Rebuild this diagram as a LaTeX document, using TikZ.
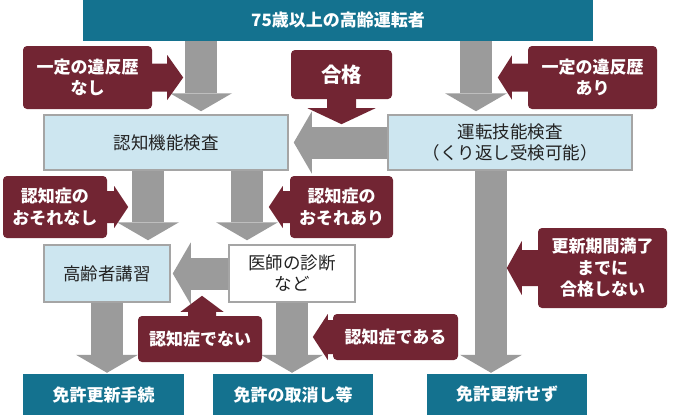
\documentclass[tikz,border=0pt]{standalone}
\usepackage{fontspec}
\setmainfont{Noto Sans CJK JP}
\usepackage{xcolor}
\usepackage{tikz}
\usetikzlibrary{arrows.meta}

\definecolor{headblue}{HTML}{14728F}
\definecolor{wine}{HTML}{722533}
\definecolor{arrowgray}{HTML}{9B9B9B}
\definecolor{paleblue}{HTML}{CDE6F0}
\definecolor{boxgray}{HTML}{A5A5A5}
\definecolor{textdark}{HTML}{222222}

\begin{document}
\begin{tikzpicture}[
  x=1pt, y=-1pt,
  every node/.style={
    align=center,
    inner sep=0pt,
    font=\fontsize{17.5}{21}\selectfont
  },
  headbox/.style={fill=headblue, text=white, font=\fontsize{17}{21}\selectfont\bfseries},
  checkbox/.style={draw=boxgray, line width=1.5pt, fill=paleblue, text=textdark},
  doctorbox/.style={draw=boxgray, line width=1.5pt, fill=white, text=textdark},
  callout/.style={fill=wine, rounded corners=4pt, text=white, font=\fontsize{17}{21.5}\selectfont\bfseries},
  garrow/.style={draw=arrowgray, line width=32pt,
    -{Triangle[length=18pt, width=62pt, line width=0pt]}}
]
\useasboundingbox (0,0) rectangle (675,415);

% boxes
\node[headbox, minimum width=510pt, minimum height=41pt] (top) at (338,20.5) {75歳以上の高齢運転者};

\node[checkbox, minimum width=244pt, minimum height=55pt] (kinou) at (166,142.5) {認知機能検査};
\node[checkbox, minimum width=244pt, minimum height=55pt] (ginou) at (510,142.5) {運転技能検査\\（くり返し受検可能）};

\node[checkbox, minimum width=126pt, minimum height=57pt] (koushu) at (107,273.5) {高齢者講習};
\node[doctorbox, minimum width=126pt, minimum height=57pt] (ishi) at (292,273.5) {医師の診断\\など};

\node[headbox, minimum width=161pt, minimum height=41pt] (koushin) at (103.5,394.5) {免許更新手続};
\node[headbox, minimum width=160pt, minimum height=41pt] (torikeshi) at (293,394.5) {免許の取消し等};
\node[headbox, minimum width=160pt, minimum height=41pt] (sezu) at (507,394.5) {免許更新せず};

% gray arrows
\draw[garrow, shorten >=3pt] ([xshift=35pt]kinou.north |- top.south) -- ([xshift=35pt]kinou.north);
\draw[garrow, shorten >=3pt] ([xshift=-34pt]ginou.north |- top.south) -- ([xshift=-34pt]ginou.north);
\draw[garrow, shorten >=5pt] (ginou.west) -- (kinou.east);
\draw[garrow, shorten >=4pt] ([xshift=-18pt]kinou.south) -- ([xshift=-18pt]kinou.south |- koushu.north);
\draw[garrow, shorten >=4pt] ([xshift=81pt]kinou.south) -- ([xshift=81pt]kinou.south |- ishi.north);
\draw[garrow, shorten >=2pt] (ishi.west) -- (koushu.east);
\draw[garrow, shorten >=1pt] (koushu.south) -- (koushu.south |- koushin.north);
\draw[garrow, shorten >=1pt] (ishi.south) -- (ishi.south |- torikeshi.north);
\draw[garrow, shorten >=1pt] ([xshift=-19pt]ginou.south) -- ([xshift=-19pt]ginou.south |- sezu.north);

% callouts
\node[callout, minimum width=129pt, minimum height=63pt] (ihan_nashi) at (87.5,77.5) {一定の違反歴\\なし};
\fill[wine, shift={(ihan_nashi.east)}] (0,-14) -- (15,-14) -- (15,-22.5) -- (31,0) -- (15,22.5) -- (15,14) -- (0,14) -- cycle;

\node[callout, minimum width=101pt, minimum height=49pt, font=\fontsize{20.5}{24}\selectfont\bfseries] (goukaku) at (341.5,74.5) {合格};
\fill[wine, shift={(goukaku.south)}, rotate=-90] (0,-14.5) -- (9,-14.5) -- (9,-34) -- (25,0) -- (9,34) -- (9,14.5) -- (0,14.5) -- cycle;

\node[callout, minimum width=129pt, minimum height=63pt] (ihan_ari) at (592.5,77.5) {一定の違反歴\\あり};
\fill[wine, shift={(ihan_ari.west)}, rotate=180] (0,-14) -- (16,-14) -- (16,-22) -- (30,0) -- (16,22) -- (16,14) -- (0,14) -- cycle;

\node[callout, minimum width=104pt, minimum height=62pt] (osore_nashi) at (55,207) {認知症の\\おそれなし};
\fill[wine, shift={(osore_nashi.east)}] (0,-16) -- (7,-16) -- (7,-21) -- (21,0) -- (7,21) -- (7,16) -- (0,16) -- cycle;

\node[callout, minimum width=103pt, minimum height=62pt] (osore_ari) at (341.5,207) {認知症の\\おそれあり};
\fill[wine, shift={(osore_ari.west)}, rotate=180] (0,-16) -- (7,-16) -- (7,-21) -- (21,0) -- (7,21) -- (7,16) -- (0,16) -- cycle;

\node[callout, minimum width=129pt, minimum height=80pt] (mankou) at (602.5,268) {更新期間満了\\までに\\合格しない};
\fill[wine, shift={(mankou.west)}, rotate=180] (0,-18) -- (16,-18) -- (16,-27) -- (31,0) -- (16,27) -- (16,18) -- (0,18) -- cycle;

\node[callout, minimum width=124pt, minimum height=46pt] (denai) at (200,339) {認知症でない};
\fill[wine, shift={([xshift=2pt]denai.north)}, rotate=90] (0,-14) -- (4,-14) -- (4,-21.5) -- (20,0) -- (4,21.5) -- (4,14) -- (0,14) -- cycle;

\node[callout, minimum width=125pt, minimum height=46pt] (dearu) at (395.5,337) {認知症である};
\fill[wine, shift={(dearu.west)}, rotate=180] (0,-17) -- (5,-17) -- (5,-23) -- (20,0) -- (5,23) -- (5,17) -- (0,17) -- cycle;

\end{tikzpicture}
\end{document}
